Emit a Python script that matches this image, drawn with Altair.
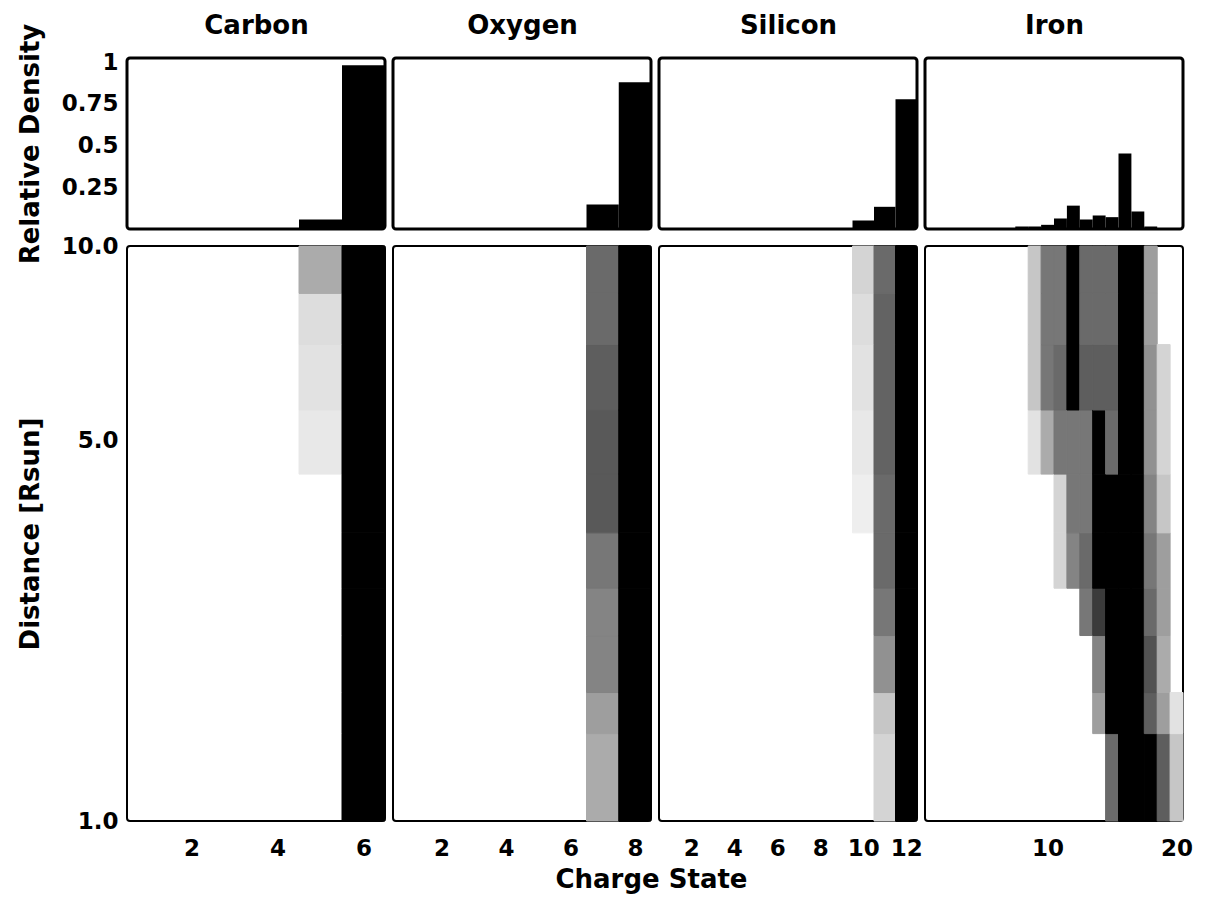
import altair as alt
import pandas as pd

# ---------------- data ----------------
ELEMENTS = ["Carbon", "Oxygen", "Silicon", "Iron"]
MAX_CHARGE = [6, 8, 12, 20]
X_TICKS = [[2, 4, 6], [2, 4, 6, 8], [2, 4, 6, 8, 10, 12], [10, 20]]
DENSITY_TICKS = [0.25, 0.5, 0.75, 1]
DISTANCE_TICKS = [1, 5, 10]

# top row: relative density per charge state
CARBON_HIST_Q = [5, 6]
CARBON_HIST_V = [0.057, 0.982]
OXYGEN_HIST_Q = [7, 8]
OXYGEN_HIST_V = [0.147, 0.88]
SILICON_HIST_Q = [10, 11, 12]
SILICON_HIST_V = [0.051, 0.133, 0.778]
IRON_HIST_Q = [8, 9, 10, 11, 12, 13, 14, 15, 16, 17, 18]
IRON_HIST_V = [0.015, 0.015, 0.025, 0.063, 0.14, 0.057, 0.081, 0.071, 0.453, 0.105, 0.015]

# bottom row: distance bins (Rsun) and shade per charge state, rows from 1.0 upward
DIST_EDGES = [1.0, 1.5, 1.8, 2.3, 2.8, 3.5, 4.4, 5.6, 7.1, 8.5, 10.0]

CARBON_MAP = {
    5: [0, 0, 0, 0, 0, 0, 0.08, 0.1, 0.12, 0.3],
    6: [1, 1, 1, 1, 1, 1, 1, 1, 1, 1],
}
OXYGEN_MAP = {
    7: [0.3, 0.35, 0.45, 0.45, 0.5, 0.62, 0.62, 0.6, 0.55, 0.55],
    8: [1, 1, 1, 1, 1, 1, 1, 1, 1, 1],
}
SILICON_MAP = {
    10: [0, 0, 0, 0, 0, 0.06, 0.08, 0.1, 0.12, 0.15],
    11: [0.15, 0.2, 0.4, 0.5, 0.55, 0.55, 0.58, 0.58, 0.58, 0.55],
    12: [1, 1, 1, 1, 1, 1, 1, 1, 1, 1],
}
IRON_MAP = {
    9: [0, 0, 0, 0, 0, 0, 0.1, 0.2, 0.2, 0.2],
    10: [0, 0, 0, 0, 0, 0, 0.3, 0.5, 0.5, 0.5],
    11: [0, 0, 0, 0, 0.15, 0.15, 0.5, 0.55, 0.5, 0.5],
    12: [0, 0, 0, 0, 0.45, 0.5, 0.5, 1, 1, 1],
    13: [0, 0, 0, 0.5, 0.55, 0.5, 0.5, 0.6, 0.55, 0.55],
    14: [0, 0.35, 0.45, 0.75, 1, 1, 1, 0.6, 0.55, 0.55],
    15: [0.55, 1, 1, 1, 1, 1, 0.55, 0.6, 0.55, 0.55],
    16: [1, 1, 1, 1, 1, 1, 1, 1, 1, 1],
    17: [1, 1, 1, 1, 1, 1, 1, 1, 1, 1],
    18: [1, 0.6, 0.65, 0.55, 0.5, 0.45, 0.4, 0.4, 0.35, 0.35],
    19: [0.6, 0.35, 0.3, 0.35, 0.35, 0.2, 0.15, 0.15, 0, 0],
    20: [0.2, 0.1, 0, 0, 0, 0, 0, 0, 0, 0],
}

HISTS = [
    (CARBON_HIST_Q, CARBON_HIST_V),
    (OXYGEN_HIST_Q, OXYGEN_HIST_V),
    (SILICON_HIST_Q, SILICON_HIST_V),
    (IRON_HIST_Q, IRON_HIST_V),
]
MAPS = [CARBON_MAP, OXYGEN_MAP, SILICON_MAP, IRON_MAP]

# ---------------- layout / style ----------------
FONT = "DejaVu Sans"
PANEL_W = 258
TOP_H = 171
BOT_H = 575


def hist_df(qs, vs):
    return pd.DataFrame({
        "q": qs,
        "lo": [q - 0.5 for q in qs],
        "hi": [q + 0.5 for q in qs],
        "v": vs,
    })


def map_df(grid):
    rows = []
    for q, vals in grid.items():
        for i, v in enumerate(vals):
            if v > 0:
                rows.append({
                    "q": q, "lo": q - 0.5, "hi": q + 0.5,
                    "r0": DIST_EDGES[i], "r1": DIST_EDGES[i + 1], "d": v,
                })
    return pd.DataFrame(rows)


shade = alt.Scale(domain=[0, 1], range=["#ffffff", "#000000"])

tops = []
bottoms = []
for i, name in enumerate(ELEMENTS):
    xs = alt.Scale(domain=[0.5, MAX_CHARGE[i] + 0.5], nice=False, zero=False)

    if i == 0:
        yaxis_top = alt.Axis(values=DENSITY_TICKS, labelExpr="datum.value + ''",
                             title="Relative Density", labelPadding=9, titlePadding=18)
    else:
        yaxis_top = None
    qs, vs = HISTS[i]
    top = alt.Chart(hist_df(qs, vs)).mark_rect(color="black").encode(
        x=alt.X("lo:Q", scale=xs,
                axis=alt.Axis(orient="top", labels=False, title=name, titlePadding=20)),
        x2="hi:Q",
        y=alt.Y("v:Q", scale=alt.Scale(domain=[0, 1.025], nice=False), axis=yaxis_top),
        y2=alt.datum(0),
    ).properties(
        width=PANEL_W, height=TOP_H,
        view=alt.ViewBackground(stroke="black", strokeWidth=3, cornerRadius=3),
    )
    tops.append(top)

    if i == 0:
        yaxis_bot = alt.Axis(values=DISTANCE_TICKS, format=".1f", title="Distance [Rsun]",
                             labelPadding=9, titlePadding=18)
    else:
        yaxis_bot = None
    if i == 1:
        xaxis = alt.Axis(values=X_TICKS[i], format="d", title="Charge State",
                         labelPadding=16, titlePadding=6, titleX=258, labelOverlap=False)
    else:
        xaxis = alt.Axis(values=X_TICKS[i], format="d", title=None,
                         labelPadding=16, labelOverlap=False)
    bot = alt.Chart(map_df(MAPS[i])).mark_rect(strokeWidth=1).encode(
        x=alt.X("lo:Q", scale=xs, axis=xaxis),
        x2="hi:Q",
        y=alt.Y("r0:Q", scale=alt.Scale(type="pow", exponent=0.15, domain=[1, 10],
                                         nice=False, zero=False), axis=yaxis_bot),
        y2="r1:Q",
        color=alt.Color("d:Q", scale=shade, legend=None),
        stroke=alt.Stroke("d:Q", scale=shade, legend=None),
    ).properties(
        width=PANEL_W, height=BOT_H,
        view=alt.ViewBackground(stroke="black", strokeWidth=2, cornerRadius=3),
    )
    bottoms.append(bot)

chart = alt.concat(
    *tops, *bottoms, columns=4, spacing={"row": 17, "column": 8},
).properties(
    align="each",
    bounds="flush",
    padding={"left": 15, "top": 10, "right": 5, "bottom": 5},
    background="white",
).configure_axis(
    labelFont=FONT, labelFontSize=23, labelFontWeight="bold", labelColor="black",
    titleFont=FONT, titleFontSize=26, titleFontWeight="bold", titleColor="black",
    domain=False, ticks=False, grid=False,
)

chart.save("out.html", embed_options={"renderer": "svg", "actions": False})
